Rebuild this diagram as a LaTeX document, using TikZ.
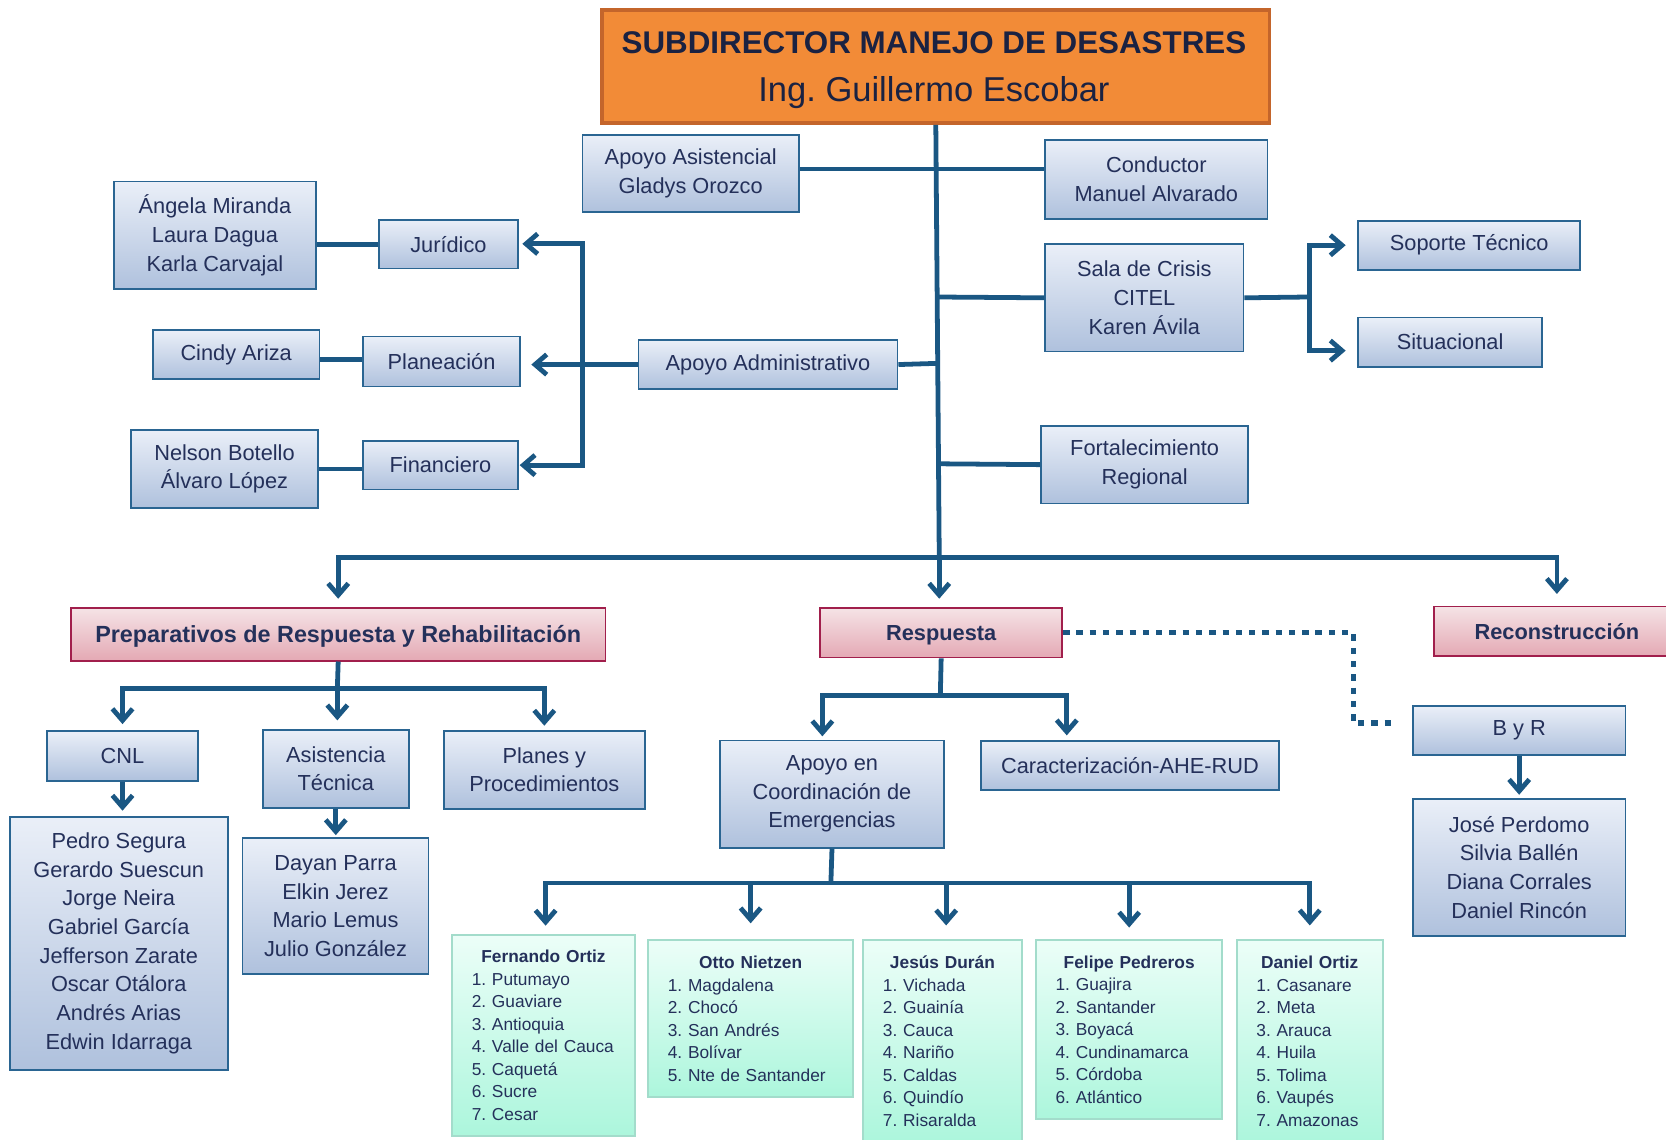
\documentclass[tikz,border=0pt]{standalone}
\usepackage{fontspec}
\setmainfont{Liberation Sans}
\usetikzlibrary{arrows.meta,calc}
\definecolor{txt}{HTML}{24305A}
\definecolor{ttxt}{HTML}{1A2242}
\definecolor{lc}{HTML}{1A5783}
\definecolor{bbord}{HTML}{2A6592}
\definecolor{btop}{HTML}{EAEFF8}
\definecolor{bbot}{HTML}{AFC1DD}
\definecolor{pbord}{HTML}{A11F4C}
\definecolor{ptop}{HTML}{F5E3E6}
\definecolor{pbot}{HTML}{E4A9B4}
\definecolor{gbord}{HTML}{A3DCCB}
\definecolor{gtop}{HTML}{ECFEF8}
\definecolor{gbot}{HTML}{ACF6DC}
\definecolor{otop}{HTML}{F28B37}
\definecolor{obord}{HTML}{C4652B}
\newcommand\grtitle[2]{\makebox[#1pt][c]{\bfseries #2}}
\frenchspacing
\begin{document}
\begin{tikzpicture}[x=1pt,y=-1pt,
 bbox/.style={draw=bbord,line width=1.6pt,top color=btop,bottom color=bbot,text=txt,align=center,inner sep=0pt,anchor=north west,font=\fontsize{20.5}{27}\selectfont},
 pbox/.style={draw=pbord,line width=1.6pt,top color=ptop,bottom color=pbot,text=txt,align=center,inner sep=0pt,anchor=north west,text depth=0pt,font=\fontsize{20.5}{27}\selectfont\bfseries},
 gbox/.style={draw=gbord,line width=1.8pt,top color=gtop,bottom color=gbot,text=txt,align=left,inner xsep=18.5pt,inner ysep=0pt,anchor=north,font=\fontsize{16.3}{21.2}\selectfont},
 conn/.style={draw=lc,line width=4.5pt},
 arr/.style={-{Straight Barb[length=11pt,width=19pt]}},
 dotline/.style={draw=lc,line width=5pt,dash pattern=on 6pt off 6.5pt}
]
\fill[white] (0,0) rectangle (1568,1072);
\useasboundingbox (0,0) rectangle (1568,1072);

% title
\node[draw=obord,line width=3.5pt,fill=otop,inner sep=0pt,anchor=north west,minimum width=628,minimum height=106.6] (title) at (565,7.4) {};
\node[text=ttxt,inner sep=0pt,anchor=base,font=\fontsize{29.5}{30}\selectfont\bfseries] (tl1) at (879,50.7) {SUBDIRECTOR MANEJO DE DESASTRES};
\node[text=ttxt,inner sep=0pt,anchor=base,font=\fontsize{32.5}{33}\selectfont] (tl2) at (879,95.6) {Ing. Guillermo Escobar};

% upper boxes
\node[bbox,minimum width=203.5,minimum height=73] (asis) at (547.5,126) {Apoyo Asistencial\\Gladys Orozco};
\node[bbox,minimum width=209,minimum height=74] (cond) at (983,131) {Conductor\\Manuel Alvarado};
\node[bbox,minimum width=186.5,minimum height=101] (sala) at (983,229) {Sala de Crisis\\CITEL\\Karen Ávila};
\node[bbox,minimum width=209,minimum height=46] (sop) at (1277.5,207) {Soporte Técnico};
\node[bbox,minimum width=173,minimum height=46.4] (sit) at (1277.5,298) {Situacional};
\node[bbox,minimum width=244,minimum height=46.6] (adm) at (600,319) {Apoyo Administrativo};
\node[bbox,minimum width=195,minimum height=73] (fort) at (979,400) {Fortalecimiento\\Regional};
\node[bbox,minimum width=190,minimum height=101.5] (ang) at (106.5,170) {Ángela Miranda\\Laura Dagua\\Karla Carvajal};
\node[bbox,minimum width=130.5,minimum height=46] (jur) at (356,206) {Jurídico};
\node[bbox,minimum width=157,minimum height=46] (cin) at (143,310) {Cindy Ariza};
\node[bbox,minimum width=147.5,minimum height=47] (pla) at (341,316) {Planeación};
\node[bbox,minimum width=176,minimum height=73] (nel) at (122.5,404) {Nelson Botello\\Álvaro López};
\node[bbox,minimum width=145.5,minimum height=46] (fin) at (341,414) {Financiero};

% second level
\node[pbox,minimum width=503,minimum height=49.5,font=\fontsize{22}{27}\selectfont\bfseries] (prep) at (66,571.5) {Preparativos de Respuesta y Rehabilitación};
\node[pbox,minimum width=228,minimum height=46.5] (resp) at (771,571.5) {Respuesta};
\node[pbox,minimum width=231,minimum height=46.6] (reco) at (1349,570) {Reconstrucción};

% lower blue boxes
\node[bbox,minimum width=142,minimum height=46.5] (cnl) at (43.5,687.5) {CNL};
\node[bbox,minimum width=137.5,minimum height=73.5] (ast) at (246.5,686) {Asistencia\\Técnica};
\node[bbox,minimum width=189,minimum height=73.5] (pyp) at (417,687) {Planes y\\Procedimientos};
\node[bbox,minimum width=205,minimum height=238] (ped) at (8.5,768) {Pedro Segura\\Gerardo Suescun\\Jorge Neira\\Gabriel García\\Jefferson Zarate\\Oscar Otálora\\Andrés Arias\\Edwin Idarraga};
\node[bbox,minimum width=175,minimum height=128] (day) at (227.5,788) {Dayan Parra\\Elkin Jerez\\Mario Lemus\\Julio González};
\node[bbox,minimum width=210.5,minimum height=101] (coo) at (677,696) {Apoyo en\\Coordinación de\\Emergencias};
\node[bbox,minimum width=280.5,minimum height=46] (car) at (922.5,696.6) {Caracterización-AHE-RUD};
\node[bbox,minimum width=200,minimum height=46] (byr) at (1329,663.6) {B y R};
\node[bbox,minimum width=200,minimum height=129] (jos) at (1329,751) {José Perdomo\\Silvia Ballén\\Diana Corrales\\Daniel Rincón};

% green boxes
\node[gbox,text width=135pt,minimum height=189.3] (fer) at (511.5,878.7) {\grtitle{135}{Fernando Ortiz}\\1. Putumayo\\2. Guaviare\\3. Antioquia\\4. Valle del Cauca\\5. Caquetá\\6. Sucre\\7. Cesar};
\node[gbox,text width=156pt,minimum height=147.6] (ott) at (706.5,884) {\grtitle{156}{Otto Nietzen}\\1. Magdalena\\2. Chocó\\3. San Andrés\\4. Bolívar\\5. Nte de Santander};
\node[gbox,text width=112pt,minimum height=190] (jes) at (887,884) {\grtitle{112}{Jesús Durán}\\1. Vichada\\2. Guainía\\3. Cauca\\4. Nariño\\5. Caldas\\6. Quindío\\7. Risaralda};
\node[gbox,text width=138.5pt,minimum height=168] (fel) at (1062.75,884) {\grtitle{138.5}{Felipe Pedreros}\\1. Guajira\\2. Santander\\3. Boyacá\\4. Cundinamarca\\5. Córdoba\\6. Atlántico};
\node[gbox,text width=100.5pt,minimum height=190] (dan) at (1232.75,884) {\grtitle{100.5}{Daniel Ortiz}\\1. Casanare\\2. Meta\\3. Arauca\\4. Huila\\5. Tolima\\6. Vaupés\\7. Amazonas};

% junction coordinates
\coordinate (bus) at (884,524.5);
\coordinate (t1) at (880.4,279.5);
\coordinate (t2) at (881.3,342);
\coordinate (t3) at (882.7,436.5);
\coordinate (sj) at (1232.5,279.5);
\coordinate (aj) at (548,342);
\coordinate (pj) at (317.5,648);
\coordinate (rj) at (885,654.5);
\coordinate (cj) at (782,831);
\coordinate (dj) at (1274,680.6);

% trunk and upper connectors
\draw[conn] (title.south) -- (bus);
\draw[conn] (asis.east |- 0,159) -- (cond.west |- 0,159);
\draw[conn] (t1) -- (sala.west);
\draw[conn] (t2) -- (adm.east);
\draw[conn] (t3) -- (fort.west);
\draw[conn] (sala.east) -- (sj);
\draw[conn,arr,shorten >=11pt] (sj) |- (sop.west);
\draw[conn,arr,shorten >=11pt] (sj) |- (sit.west |- 0,330);
\draw[conn,arr,shorten >=10pt] (adm.west) -- (pla.east |- adm.west);
\draw[conn,arr,shorten >=3.5pt] (aj) |- (jur.east |- 0,229.5);
\draw[conn,arr,shorten >=1pt] (aj) |- (fin.east);
\draw[conn] (ang.east |- jur.west) -- (jur.west);
\draw[conn] (cin.east |- 0,338) -- (pla.west |- 0,338);
\draw[conn] (nel.east) -- (fin.west |- nel.east);

% main bus
\draw[conn,arr,shorten >=8pt] (bus) -| (prep.north);
\draw[conn,arr,shorten >=8pt] (bus) -- (bus |- resp.north);
\draw[conn,arr,shorten >=11pt] (bus) -| (reco.north);

% preparativos
\draw[conn] (prep.south) -- (pj);
\draw[conn,arr,shorten >=6pt] (pj) -| (cnl.north);
\draw[conn,arr,shorten >=8pt] (pj) -- (pj |- ast.north);
\draw[conn,arr,shorten >=4pt] (pj) -| (pyp.north);
\draw[conn,arr,shorten >=5pt] (cnl.south) -- (cnl.south |- ped.north);
\draw[conn,arr,shorten >=2pt] (ast.south) -- (ast.south |- day.north);

% respuesta
\draw[conn] (resp.south) -- (rj);
\draw[conn,arr,shorten >=3pt] (rj) -| (coo.north -| 774,0);
\draw[conn,arr,shorten >=4.5pt] (rj) -| (car.north -| 1004,0);
\draw[conn] (coo.south) -- (cj);
\draw[conn,arr,shorten >=7.5pt] (cj) -| (fer.north -| 513.5,0);
\draw[conn,arr,shorten >=15pt] (cj) -| (ott.north);
\draw[conn,arr,shorten >=13pt] (cj) -| (jes.north -| 890.5,0);
\draw[conn,arr,shorten >=11pt] (cj) -| (fel.north);
\draw[conn,arr,shorten >=13pt] (cj) -| (dan.north);

% dotted link and B y R
\draw[dotline,shorten >=15pt] (resp.east) -| (dj) -- (byr.west |- dj);
\draw[conn,arr,shorten >=3pt] (byr.south) -- (jos.north);
\end{tikzpicture}
\end{document}
